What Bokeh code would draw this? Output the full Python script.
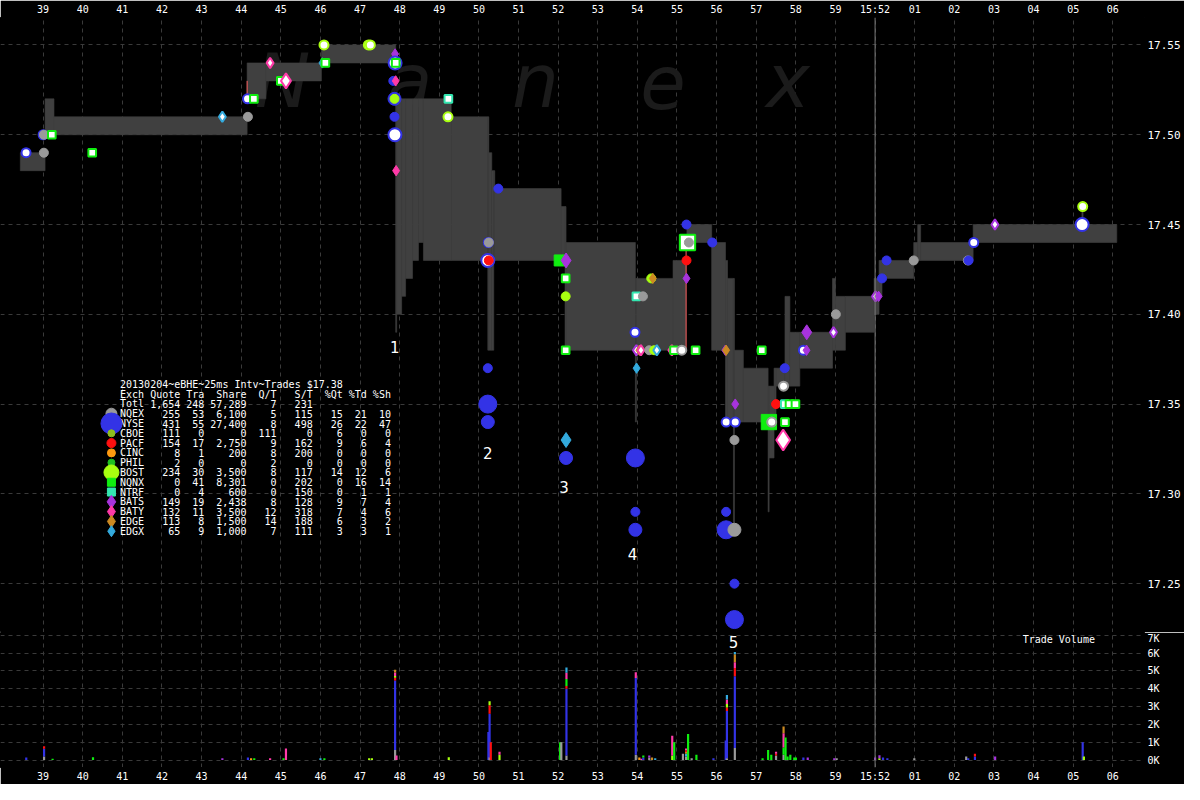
from bokeh.plotting import figure
from bokeh.models import ColumnDataSource, FixedTicker, Span, Range1d, PrintfTickFormatter
from bokeh.layouts import column
from bokeh.embed import file_html
from bokeh.resources import INLINE
from bokeh.core.properties import value

# ---------------- data ----------------
tick_secs = list(range(39, 67))
tick_labels = ["39", "40", "41", "42", "43", "44", "45", "46", "47", "48", "49", "50",
               "51", "52", "53", "54", "55", "56", "57", "58", "59", "15:52",
               "01", "02", "03", "04", "05", "06"]
price_ticks = [17.25, 17.30, 17.35, 17.40, 17.45, 17.50, 17.55]
vol_ticks = [0, 1000, 2000, 3000, 4000, 5000, 6000, 7000]
vol_tick_labels = ["0K", "1K", "2K", "3K", "4K", "5K", "6K", "7K"]

# NBBO band (start sec, end sec, bid, ask)
band_t0 = [38.425, 39.05, 39.275, 44.15, 44.625, 46.025, 47.9, 47.925, 48.05, 48.15,
           48.325, 48.475, 48.6, 49.3, 50.225, 50.25, 50.325, 50.375, 50.4, 52.075,
           52.175, 52.2, 53.95, 53.975, 54.9, 55.25, 55.875, 56.225, 56.275, 56.425,
           56.45, 56.675, 57.3, 57.325, 57.45, 57.5, 57.725, 57.85, 58.1, 58.925,
           59.0, 59.25, 59.975, 60.1, 60.175, 60.975, 61.075, 61.15, 62.475, 65.22]
band_t1 = [39.05, 39.275, 44.15, 44.625, 46.025, 47.9, 47.925, 48.05, 48.15, 48.325,
           48.475, 48.6, 49.3, 50.225, 50.25, 50.325, 50.375, 50.4, 52.075, 52.175,
           52.2, 53.95, 53.975, 54.9, 55.225, 55.875, 56.225, 56.275, 56.425, 56.45,
           56.675, 57.3, 57.325, 57.45, 57.5, 57.725, 57.85, 58.1, 58.925, 59.0,
           59.25, 59.975, 60.1, 60.175, 60.975, 61.075, 61.15, 62.475, 66.1, 65.25]
band_bid = [17.48, 17.50, 17.50, 17.52, 17.53, 17.54, 17.39, 17.40, 17.41, 17.42,
            17.43, 17.44, 17.43, 17.43, 17.38, 17.38, 17.38, 17.43, 17.43, 17.43,
            17.38, 17.38, 17.34, 17.38, 17.38, 17.44, 17.38, 17.34, 17.34, 17.28,
            17.34, 17.34, 17.29, 17.32, 17.34, 17.36, 17.36, 17.36, 17.37, 17.38,
            17.38, 17.39, 17.40, 17.41, 17.42, 17.43, 17.43, 17.43, 17.44, 17.45]
band_ask = [17.49, 17.52, 17.51, 17.54, 17.54, 17.55, 17.52, 17.52, 17.52, 17.52,
            17.52, 17.52, 17.52, 17.51, 17.51, 17.49, 17.48, 17.48, 17.47, 17.46,
            17.46, 17.44, 17.42, 17.42, 17.43, 17.45, 17.44, 17.43, 17.42, 17.42,
            17.38, 17.37, 17.36, 17.36, 17.37, 17.37, 17.41, 17.39, 17.39, 17.42,
            17.41, 17.41, 17.42, 17.43, 17.43, 17.44, 17.45, 17.44, 17.45, 17.46]

# crossed-quote lines
cross_t = [44.15, 55.23]
cross_lo = [17.522, 17.38]
cross_hi = [17.53, 17.437]

# trades / quotes markers
trade_t = [38.57, 39.02, 39.0, 39.02, 39.22, 40.24, 43.525, 44.17, 44.16, 44.32,
           44.73, 45.0, 45.13, 46.09, 46.05, 46.125, 47.21, 47.26, 47.885, 47.885,
           47.9, 47.84, 47.9, 47.87, 47.87, 47.87, 47.88, 47.91, 49.23, 49.22,
           50.24, 50.25, 50.225, 50.25, 50.49, 50.225, 50.225, 50.225, 52.04, 52.2,
           52.19, 52.19, 52.19, 52.2, 52.2, 53.975, 54.14, 53.94, 54.35, 54.39,
           53.975, 54.05, 54.09, 54.3, 54.425, 54.49, 54.87, 54.925, 55.12, 55.47,
           56.22, 56.24, 57.14, 53.98, 53.95, 53.95, 53.95, 55.24, 55.265, 55.3,
           55.24, 55.24, 55.89, 56.47, 56.24, 56.47, 56.45, 56.24, 56.24, 56.45,
           56.45, 56.45, 57.32, 57.39, 57.725, 57.5, 57.72, 57.84, 57.99, 57.69,
           57.72, 57.68, 58.275, 58.19, 58.27, 58.95, 59.01, 60.01, 60.09, 60.175,
           60.29, 60.975, 62.34, 62.36, 62.49, 63.025, 65.225, 65.24]
trade_p = [17.49, 17.49, 17.50, 17.50, 17.50, 17.49, 17.51, 17.51, 17.52, 17.52,
           17.54, 17.53, 17.53, 17.55, 17.54, 17.54, 17.55, 17.55, 17.545, 17.54,
           17.54, 17.53, 17.53, 17.52, 17.52, 17.51, 17.50, 17.48, 17.52, 17.51,
           17.44, 17.44, 17.43, 17.43, 17.47, 17.37, 17.35, 17.34, 17.43, 17.43,
           17.42, 17.41, 17.38, 17.33, 17.32, 17.41, 17.41, 17.39, 17.42, 17.42,
           17.38, 17.38, 17.38, 17.38, 17.38, 17.38, 17.38, 17.38, 17.38, 17.38,
           17.38, 17.38, 17.38, 17.37, 17.32, 17.29, 17.28, 17.45, 17.44, 17.44,
           17.43, 17.42, 17.44, 17.35, 17.34, 17.34, 17.33, 17.29, 17.28, 17.28,
           17.25, 17.23, 17.34, 17.34, 17.34, 17.35, 17.35, 17.35, 17.35, 17.36,
           17.37, 17.33, 17.39, 17.38, 17.38, 17.39, 17.40, 17.41, 17.41, 17.42,
           17.43, 17.43, 17.43, 17.43, 17.44, 17.45, 17.45, 17.46]
trade_ex = ["NYSE", "NQEX", "NYSE", "NQEX", "NQNX", "NQNX", "EDGX", "NQEX", "NYSE", "NQNX",
            "BATY", "NQNX", "BATY", "BOST", "EDGX", "NQNX", "BOST", "BOST", "BATS", "NYSE",
            "NQNX", "NYSE", "BATY", "NYSE", "BOST", "NYSE", "NYSE", "BATY", "NTRF", "BOST",
            "NYSE", "NQEX", "NYSE", "PACF", "NYSE", "NYSE", "NYSE", "NYSE", "NQNX", "BATS",
            "NQNX", "BOST", "NQNX", "EDGX", "NYSE", "NTRF", "NQEX", "NYSE", "BOST", "EDGE",
            "BATS", "EDGE", "BATY", "NQEX", "BOST", "EDGX", "BATY", "NQNX", "NQEX", "NQNX",
            "BATS", "EDGE", "NQNX", "EDGX", "NYSE", "NYSE", "NYSE", "NYSE", "NQNX", "NQEX",
            "PACF", "BATS", "NYSE", "BATS", "NYSE", "NYSE", "NQEX", "NYSE", "NYSE", "NQEX",
            "NYSE", "NYSE", "NQNX", "NQEX", "NQNX", "PACF", "NTRF", "NQNX", "NQNX", "NQEX",
            "NYSE", "BATY", "BATS", "NYSE", "BATS", "BATS", "NQEX", "BATS", "BATS", "NYSE",
            "NYSE", "NQEX", "NQEX", "NYSE", "NYSE", "BATS", "NYSE", "BOST"]
trade_kind = ["S", "S", "S", "S", "S", "S", "S", "S", "S", "S",
              "S", "S", "M", "S", "S", "S", "S", "S", "S", "M",
              "S", "S", "S", "M", "S", "S", "M", "S", "S", "S",
              "S", "S", "M", "S", "S", "S", "L", "M", "M", "M",
              "S", "S", "S", "M", "M", "S", "S", "S", "S", "S",
              "S", "S", "S", "S", "S", "S", "S", "S", "S", "S",
              "S", "S", "S", "S", "L", "S", "M", "S", "L", "S",
              "S", "S", "S", "S", "S", "S", "S", "S", "L", "M",
              "S", "L", "L", "S", "S", "S", "S", "S", "S", "S",
              "S", "L", "M", "S", "S", "S", "S", "S", "S", "S",
              "S", "S", "S", "S", "S", "S", "M", "S"]
trade_open = ["O", "F", "O", "F", "O", "O", "O", "F", "O", "O",
              "O", "O", "O", "O", "F", "O", "O", "O", "F", "O",
              "O", "F", "F", "F", "F", "F", "O", "F", "O", "O",
              "O", "F", "O", "F", "F", "F", "F", "F", "F", "F",
              "O", "F", "O", "F", "F", "O", "F", "O", "F", "F",
              "O", "F", "O", "F", "F", "O", "O", "O", "O", "O",
              "F", "F", "O", "F", "F", "F", "F", "F", "O", "F",
              "F", "F", "F", "F", "O", "O", "F", "F", "F", "F",
              "F", "F", "F", "O", "O", "F", "O", "O", "O", "O",
              "F", "O", "F", "O", "F", "O", "F", "O", "F", "F",
              "F", "F", "F", "F", "O", "O", "O", "O"]

# trade volume (stacked per time, bottom-up)
vol_t = [38.575, 39.025, 39.025, 39.025, 39.24, 40.26, 43.525, 44.17, 44.25, 44.33,
         44.73, 45.07, 45.13, 46.0, 46.1, 47.23, 47.3,
         47.885, 47.885, 47.885, 47.885, 47.885, 47.885, 47.92, 49.24, 50.24,
         50.27, 50.27, 50.27, 50.27, 50.30, 50.52, 50.52, 52.05, 52.08,
         52.21, 52.21, 52.21, 52.21, 52.21, 52.21,
         53.96, 53.96, 53.96, 54.05, 54.1, 54.15, 54.15, 54.3, 54.3, 54.37, 54.45,
         54.88, 54.88, 54.93, 55.15, 55.23, 55.23, 55.23, 55.23, 55.23, 55.28,
         55.37, 55.49, 55.92, 56.23, 56.26, 56.26, 56.26, 56.26, 56.26, 56.26,
         56.46, 56.46, 56.46, 56.46, 56.46, 56.46, 57.16, 57.3, 57.38,
         57.5, 57.5, 57.5, 57.69, 57.69, 57.69, 57.69, 57.74, 57.79, 57.86,
         57.96, 58.0, 58.19, 58.3, 58.97, 59.03, 60.0, 60.11, 60.11, 60.2, 60.31,
         60.99, 62.3, 62.35, 62.52, 62.52, 63.03, 65.24, 65.27]
vol_ex = ["NYSE", "NQEX", "NYSE", "PACF", "NQNX", "NQNX", "BATS", "NYSE", "CINC", "NQNX",
          "BATY", "NQNX", "BATY", "EDGX", "NQNX", "BOST", "BOST",
          "NQEX", "NYSE", "PACF", "BOST", "BATY", "EDGE", "BATY", "BOST", "NYSE",
          "NQEX", "NYSE", "PACF", "BOST", "PACF", "BOST", "BATY", "NQNX", "NQEX",
          "NQEX", "NYSE", "PACF", "NQNX", "BATY", "EDGX",
          "NQEX", "NYSE", "BATY", "CINC", "BATY", "NYSE", "NQNX", "NQEX", "BATS", "EDGE", "EDGX",
          "BOST", "BATY", "NQNX", "NQEX", "NQEX", "EDGX", "EDGE", "PACF", "BATY", "NQNX",
          "NQEX", "NQNX", "NYSE", "NYSE", "NQEX", "NYSE", "PACF", "BOST", "BATY", "EDGX",
          "NQEX", "NYSE", "PACF", "BATY", "EDGE", "EDGX", "NQNX", "NQNX", "NQNX",
          "NQEX", "PACF", "BATY", "NQEX", "NQNX", "BATY", "EDGE", "NQNX", "NQNX", "NQNX",
          "NQNX", "NQNX", "NYSE", "BATS", "BATS", "NQEX", "BATS", "BOST", "BATS", "NYSE", "NYSE",
          "NQEX", "NQEX", "NYSE", "NYSE", "PACF", "BATS", "NYSE", "BOST"]
vol_sh = [150, 200, 430, 150, 80, 160, 100, 150, 100, 100,
          100, 100, 650, 100, 100, 100, 100,
          570, 3890, 160, 100, 200, 150, 250, 160, 1580,
          160, 2440, 470, 230, 1000, 300, 160, 1000, 1000,
          250, 3750, 150, 400, 350, 300,
          300, 4300, 330, 150, 80, 150, 100, 150, 100, 150, 100,
          250, 1110, 1000, 350, 200, 150, 100, 100, 100, 1460,
          100, 300, 100, 1100, 100, 2650, 200, 200, 250, 250,
          670, 4030, 470, 320, 450, 120, 100, 560, 300,
          250, 100, 110, 300, 400, 800, 380, 1270, 200, 300,
          150, 150, 150, 150, 100, 100, 150, 100, 170, 150, 100,
          100, 200, 100, 200, 150, 200, 1000, 200]

# summary table
exch_names = ["NQEX", "NYSE", "CBOE", "PACF", "CINC", "PHIL", "BOST", "NQNX", "NTRF",
              "BATS", "BATY", "EDGE", "EDGX"]
quotes = ["255", "431", "111", "154", "8", "2", "234", "0", "0", "149", "132", "113", "65"]
trades = ["53", "55", "0", "17", "1", "0", "30", "41", "4", "19", "11", "8", "9"]
shares = ["6,100", "27,400", "0", "2,750", "200", "0", "3,500", "8,301", "600", "2,438",
          "3,500", "1,500", "1,000"]
q_per_t = ["5", "8", "111", "9", "8", "2", "8", "0", "0", "8", "12", "14", "7"]
s_per_t = ["115", "498", "0", "162", "200", "0", "117", "202", "150", "128", "318", "188", "111"]
pct_q = ["15", "26", "6", "9", "0", "0", "14", "0", "0", "9", "7", "6", "3"]
pct_t = ["21", "22", "0", "6", "0", "0", "12", "16", "1", "7", "4", "3", "3"]
pct_s = ["10", "47", "0", "4", "0", "0", "6", "14", "1", "4", "6", "2", "1"]
header_row = ["Exch", "Quote", "Tra", "Share", "Q/T", "S/T", "%Qt", "%Td", "%Sh"]
total_row = ["Totl", "1,654", "248", "57,289", "7", "231", "", "", ""]
title_line = "20130204~eBHE~25ms Intv~Trades $17.38"

# ---------------- styles ----------------
ex_color = {"NQEX": "#9a9a9a", "NYSE": "#3333e6", "CBOE": "#8fbf1f", "PACF": "#ff1010",
            "CINC": "#ff9a10", "PHIL": "#20c020", "BOST": "#a8ff10", "NQNX": "#10ee10",
            "NTRF": "#33e6b0", "BATS": "#a833dd", "BATY": "#ff3aa8", "EDGE": "#cc8a22",
            "EDGX": "#33aadd"}
ex_marker = {"NQEX": "circle", "NYSE": "circle", "CBOE": "circle", "PACF": "circle",
             "CINC": "circle", "PHIL": "circle", "BOST": "circle", "NQNX": "square",
             "NTRF": "square", "BATS": "diamond", "BATY": "diamond", "EDGE": "diamond",
             "EDGX": "diamond"}
legend_size = {"NQEX": 11, "NYSE": 21, "CBOE": 7, "PACF": 9, "CINC": 8, "PHIL": 7,
               "BOST": 15, "NQNX": 8, "NTRF": 8, "BATS": 13, "BATY": 12, "EDGE": 12,
               "EDGX": 11}
kind_size = {"S": 9, "M": 13, "L": 18}
shape_scale = {"circle": 1.0, "square": 0.85, "diamond": 1.15}

BG = "black"
GRID = "#3a3a3a"
BAND = "#404040"
MONO = "DejaVu Sans Mono"

W = 1184
RIGHT = 40
X0, X1 = 37.925, 66.8
PX_PER_SEC = (W - RIGHT) / (X1 - X0)


def style_fig(p):
    # the svg backend still strokes a None outline, so paint it in the background colour
    p.outline_line_color = BG
    for ax in p.axis:
        ax.axis_line_color = BG
        ax.major_tick_line_color = None
        ax.minor_tick_line_color = None
        ax.major_tick_out = 0
        ax.major_tick_in = 0
        ax.major_label_text_color = "white"
        ax.major_label_text_font = MONO
        ax.major_label_text_font_size = "10px"
        ax.major_label_standoff = 3
    for g in p.grid:
        g.grid_line_color = GRID
        g.grid_line_dash = "4 4"
        g.grid_line_width = 1


x_overrides = {s: lab for s, lab in zip(tick_secs, tick_labels)}


def make_fig(height, y_range, x_range, xloc):
    return figure(width=W, height=height, x_range=x_range, y_range=y_range,
                  output_backend="svg", toolbar_location=None, x_axis_location=xloc,
                  y_axis_location="right", background_fill_color=BG, border_fill_color=BG,
                  min_border_left=0, min_border_right=RIGHT,
                  min_border_top=0, min_border_bottom=0)


# ---------------- price figure ----------------
top = make_fig(632, Range1d(17.2228, 17.5653), Range1d(X0, X1), "above")
top.xaxis.ticker = FixedTicker(ticks=tick_secs)
top.xaxis.major_label_overrides = x_overrides
top.yaxis.ticker = FixedTicker(ticks=price_ticks)
top.yaxis.formatter = PrintfTickFormatter(format="%.2f")
style_fig(top)
top.yaxis.major_label_text_font_size = "11px"

# watermark
wm_letters = ["N", "a", "n", "e", "x"]
wm_x = [45.05, 48.25, 51.425, 54.65, 57.8]
top.text(x=wm_x, y=[17.5298] * 5, text=wm_letters, text_color="#1b1b1b",
         text_font=value("DejaVu Sans"), text_font_style="italic",
         text_font_size="74px", text_align="center", text_baseline="alphabetic")

# band
top.quad(left=band_t0, right=band_t1, bottom=band_bid, top=band_ask,
         fill_color=BAND, line_color=BAND, line_width=0.6)
top.segment(x0=cross_t, y0=cross_lo, x1=cross_t, y1=cross_hi,
            line_color="#ff6060", line_width=1)
top.add_layout(Span(location=60, dimension="height", line_color="#7a7a7a", line_width=1))

# markers
m_shape = [ex_marker[e] for e in trade_ex]
m_size = [kind_size[k] * shape_scale[ex_marker[e]] for k, e in zip(trade_kind, trade_ex)]
m_line = [ex_color[e] for e in trade_ex]
m_fill = [ex_color[e] if o == "F" else "white" for e, o in zip(trade_ex, trade_open)]
m_lw = [1 if o == "F" else 2 for o in trade_open]
src = ColumnDataSource(dict(x=trade_t, y=trade_p, marker=m_shape, size=m_size,
                            fill=m_fill, line=m_line, lw=m_lw))
top.scatter(x="x", y="y", marker="marker", size="size", fill_color="fill",
            line_color="line", line_width="lw", source=src)

# event numbers
ev_text = ["1", "2", "3", "4"]
ev_x = [47.875, 50.225, 52.15, 53.875]
ev_y = [17.382, 17.323, 17.304, 17.2665]
top.text(x=ev_x, y=ev_y, text=ev_text, text_color="white", text_font=value("DejaVu Sans"),
         text_font_size="15px", text_align="center", text_baseline="middle")

# summary table (monospace columns)
row_step = 10 / 1834.0
tab_y0 = 17.3610
tab_x = 40.942
cw = 6.02 / PX_PER_SEC
col_end = [None, 10, 14, 21, 26, 32, 37, 41, 45]  # right edge of each column, in chars

rows = [header_row, total_row]
for i, e in enumerate(exch_names):
    rows.append([e, quotes[i], trades[i], shares[i], q_per_t[i], s_per_t[i],
                 pct_q[i], pct_t[i], pct_s[i]])

tx, ty, tt, ta = [tab_x], [tab_y0], [title_line], ["left"]
for r, row in enumerate(rows):
    yy = tab_y0 - (r + 1) * row_step
    for c, cell in enumerate(row):
        if cell == "":
            continue
        if c == 0:
            tx.append(tab_x)
            ta.append("left")
        else:
            tx.append(tab_x + col_end[c] * cw)
            ta.append("right")
        ty.append(yy)
        tt.append(cell)
top.text(x=tx, y=ty, text=tt, text_align=ta, text_color="white", text_font=value(MONO),
         text_font_size="10px", text_baseline="middle")
top.scatter(x=[40.725] * len(exch_names),
            y=[tab_y0 - (i + 3) * row_step for i in range(len(exch_names))],
            marker=[ex_marker[e] for e in exch_names],
            size=[legend_size[e] for e in exch_names],
            fill_color=[ex_color[e] for e in exch_names],
            line_color=[ex_color[e] for e in exch_names])

# ---------------- volume figure ----------------
bot = make_fig(152, Range1d(-418, 7158), top.x_range, "below")
bot.xaxis.ticker = FixedTicker(ticks=tick_secs)
bot.xaxis.major_label_overrides = x_overrides
bot.yaxis.ticker = FixedTicker(ticks=vol_ticks)
bot.yaxis.major_label_overrides = {v: l for v, l in zip(vol_ticks, vol_tick_labels)}
style_fig(bot)
bot.add_layout(Span(location=60, dimension="height", line_color="#7a7a7a", line_width=1))

cum = {}
vb, vt = [], []
for t, sh in zip(vol_t, vol_sh):
    b = cum.get(t, 0)
    vb.append(b)
    vt.append(b + sh)
    cum[t] = b + sh
bot.vbar(x=vol_t, width=0.055, bottom=vb, top=vt,
         fill_color=[ex_color[e] for e in vol_ex], line_color=None)

bot.text(x=[56.425], y=[6650], text=["5"], text_color="white", text_font=value("DejaVu Sans"),
         text_font_size="15px", text_align="center", text_baseline="middle")
bot.text(x=[63.725], y=[6750], text=["Trade Volume"], text_color="white",
         text_font=value(MONO), text_font_size="10px", text_align="left",
         text_baseline="middle")

layout = column(top, bot, spacing=0)
open("out.html", "w").write(file_html(layout, INLINE))
